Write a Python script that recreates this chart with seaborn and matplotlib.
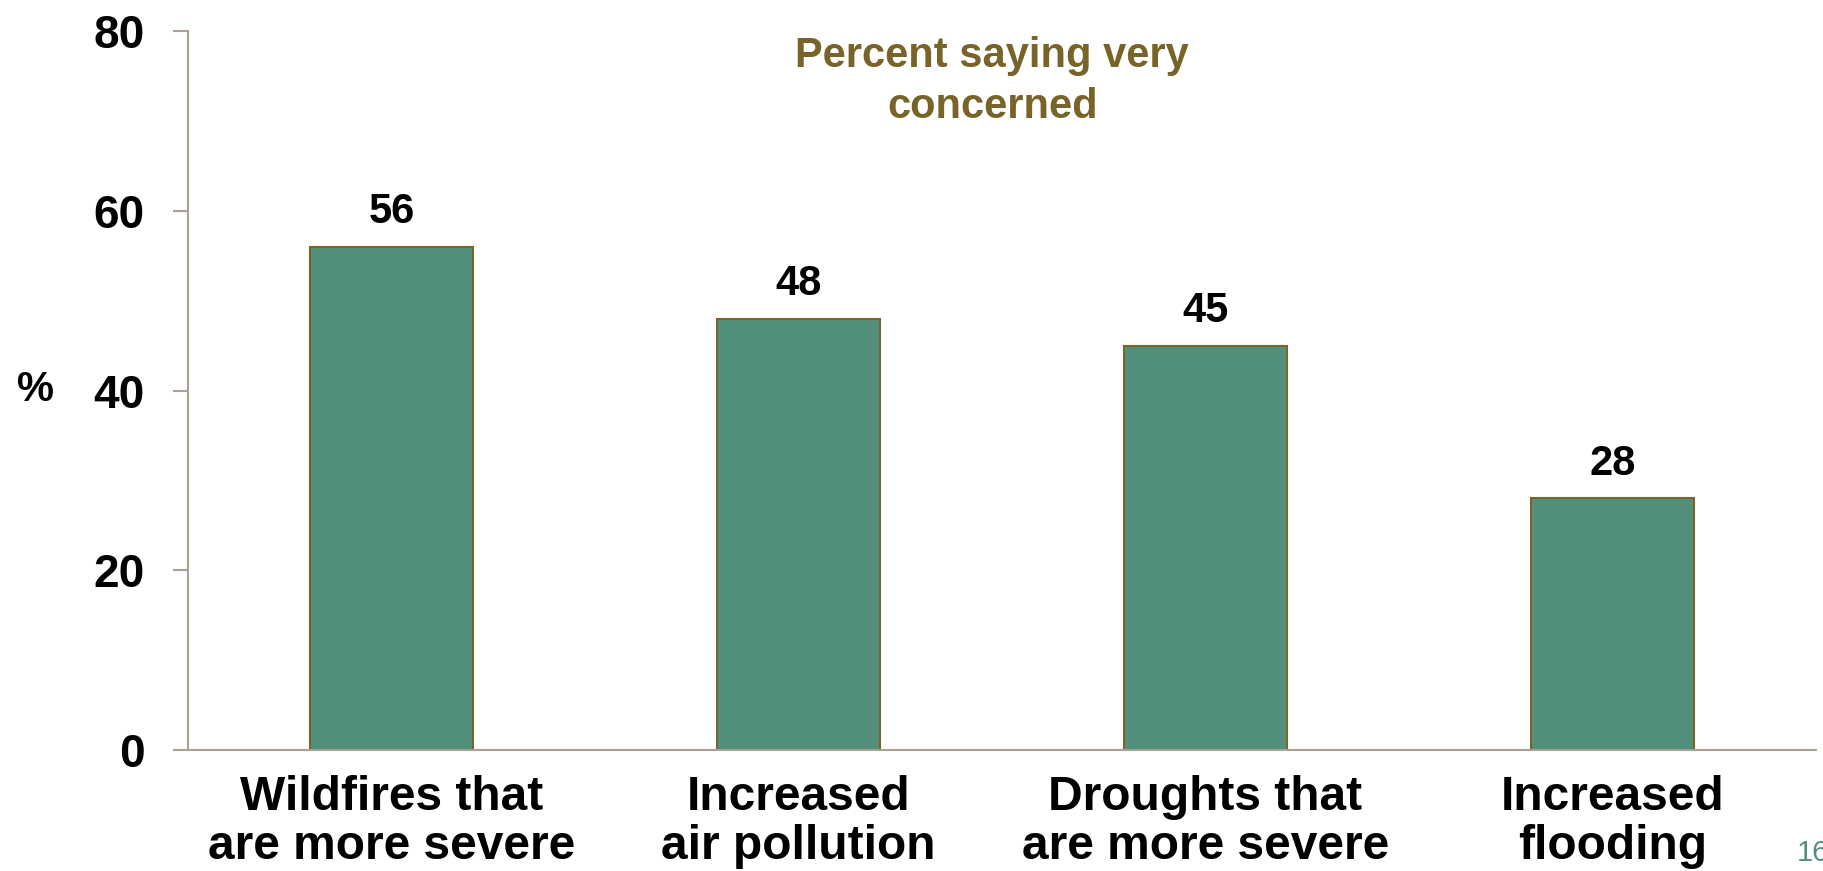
"""Bar chart: percent saying very concerned about climate impacts."""

import matplotlib
matplotlib.use("Agg")
import matplotlib.pyplot as plt
import pandas as pd
import seaborn as sns

categories = [
    "Wildfires that\nare more severe",
    "Increased\nair pollution",
    "Droughts that\nare more severe",
    "Increased\nflooding",
]
values = [56, 48, 45, 28]
y_ticks = [0, 20, 40, 60, 80]

BAR_COLOR = "#52907D"
EDGE_COLOR = "#7A6428"
SPINE_COLOR = "#A9A290"
TITLE_COLOR = "#786428"

sns.set_style("white")
plt.rcParams["font.family"] = ["Liberation Sans", "DejaVu Sans"]

df = pd.DataFrame({"category": categories, "value": values})

fig = plt.figure(figsize=(18.24, 8.71), dpi=100)
ax = fig.add_axes([188 / 1824, 1 - 750 / 871, 1628 / 1824, 719 / 871])

sns.barplot(data=df, x="category", y="value", color=BAR_COLOR, width=0.4,
            edgecolor=EDGE_COLOR, linewidth=1.5, saturation=1, ax=ax)

# value labels
for i, v in enumerate(values):
    ax.text(i, v + 1.6, str(v), ha="center", va="bottom",
            fontsize=30, fontweight="bold", color="black")

ax.set_xlim(-0.5, len(categories) - 0.5)
ax.set_ylim(0, 80)
ax.set_yticks(y_ticks)
ax.set_yticklabels([str(t) for t in y_ticks], fontsize=33, fontweight="bold",
                   color="black")
ax.set_xticks(range(len(categories)))
ax.set_xticklabels(categories, fontsize=34.5, fontweight="bold", color="black",
                   linespacing=1.12)
ax.set_xticks([i - 0.5 for i in range(len(categories) + 1)], minor=True)

ax.tick_params(axis="x", which="major", length=0, pad=18)
ax.tick_params(axis="x", which="minor", length=10, width=1.5,
               color=SPINE_COLOR, direction="out")
ax.tick_params(axis="y", length=11, width=1.5, color=SPINE_COLOR,
               direction="out", pad=20, left=True)

for side in ["top", "right"]:
    ax.spines[side].set_visible(False)
for side in ["left", "bottom"]:
    ax.spines[side].set_color(SPINE_COLOR)
    ax.spines[side].set_linewidth(1.5)

ax.set_xlabel("")
ax.set_ylabel("")
fig.text(35 / 1824, 1 - 390 / 871, "%", fontsize=30, fontweight="bold",
         ha="center", va="center", color="black")

ax.text(0.494, 0.993, "Percent saying very\nconcerned", transform=ax.transAxes,
        ha="center", va="top", fontsize=30, color=TITLE_COLOR,
        fontweight="bold", linespacing=1.35)

fig.text(1797 / 1824, 1 - 853 / 871, "16", fontsize=21, color=BAR_COLOR,
         ha="left", va="center")

fig.savefig("out.png", dpi=100)
